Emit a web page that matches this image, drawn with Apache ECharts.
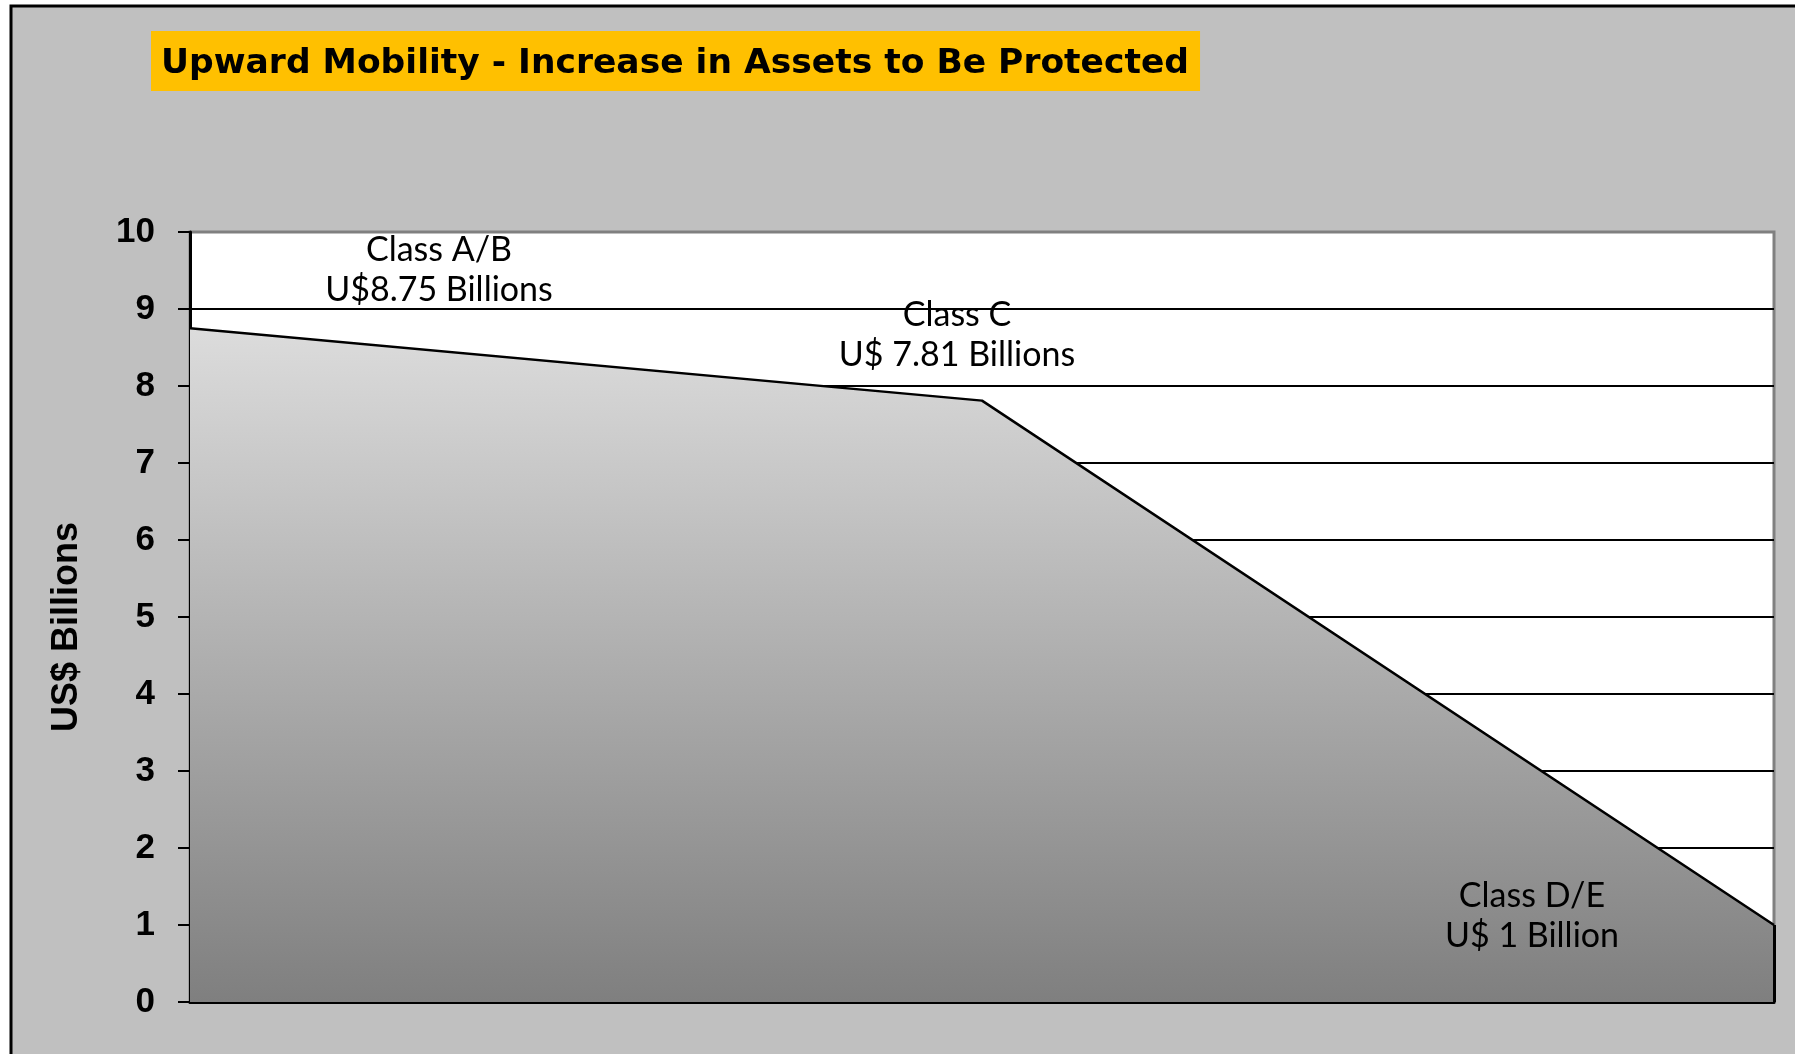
<!DOCTYPE html>
<html>
<head>
<meta charset="utf-8">
<title>Upward Mobility - Increase in Assets to Be Protected</title>
<script src="https://cdn.jsdelivr.net/npm/echarts@6/dist/echarts.min.js"></script>
<style>
  html, body { margin: 0; padding: 0; background: #ffffff; }
  #chart { width: 1795px; height: 1054px; }
</style>
</head>
<body>
<div id="chart"></div>
<script>
// Asset classes along the horizontal axis and protected assets (US$ billions)
const categories = ['Class A/B', 'Class C', 'Class D/E'];
const assets = [8.75, 7.81, 1];
const valueText = ['U$8.75 Billions', 'U$ 7.81 Billions', 'U$ 1 Billion'];
const yTicks = [0, 1, 2, 3, 4, 5, 6, 7, 8, 9, 10];

// Where each class caption sits relative to its point, in pixels
const captionOffsets = [[249, -58], [-25, -66], [-242, -9]];

const labelFont = 'Lato, "Noto Sans", sans-serif';

const chart = echarts.init(document.getElementById('chart'), null, { renderer: 'canvas' });

const seriesData = assets.map((v, i) => ({
  value: v,
  label: {
    show: true,
    position: 'inside',
    offset: captionOffsets[i],
    align: 'center',
    verticalAlign: 'middle',
    formatter: categories[i] + '\n' + valueText[i]
  }
}));

chart.setOption({
  animation: false,
  backgroundColor: '#ffffff',
  title: {
    text: 'Upward Mobility - Increase in Assets to Be Protected',
    left: 151,
    top: 31,
    backgroundColor: '#FFC000',
    padding: [14, 11, 8, 10],
    textStyle: {
      fontFamily: '"DejaVu Sans", sans-serif',
      fontWeight: 'bold',
      fontSize: 34.5,
      lineHeight: 38,
      color: '#000000'
    }
  },
  graphic: [
    {
      type: 'rect',
      z: -100,
      shape: { x: 11, y: 6, width: 1800, height: 1100 },
      style: { fill: '#c0c0c0', stroke: '#000000', lineWidth: 3 }
    }
  ],
  grid: {
    left: 190,
    top: 232,
    right: 21,
    bottom: 52,
    show: true,
    backgroundColor: '#ffffff',
    borderColor: '#808080',
    borderWidth: 3
  },
  xAxis: {
    type: 'category',
    data: categories,
    boundaryGap: false,
    axisLine: { show: true, lineStyle: { color: '#000000', width: 3 } },
    axisTick: { show: false },
    axisLabel: { show: false },
    splitLine: { show: false }
  },
  yAxis: {
    type: 'value',
    min: yTicks[0],
    max: yTicks[yTicks.length - 1],
    interval: 1,
    name: 'US$ Billions',
    nameLocation: 'middle',
    nameRotate: 90,
    nameGap: 105,
    nameTextStyle: {
      fontFamily: '"Liberation Sans", Arial, sans-serif',
      fontWeight: 'bold',
      fontSize: 36,
      color: '#000000',
      padding: [0, 20, 0, 0]
    },
    axisLine: { show: true, lineStyle: { color: '#000000', width: 3 } },
    axisTick: { show: true, length: 12, lineStyle: { color: '#000000', width: 2 } },
    axisLabel: {
      margin: 35,
      fontFamily: '"Liberation Sans", Arial, sans-serif',
      fontWeight: 'bold',
      fontSize: 35,
      color: '#000000'
    },
    splitLine: {
      show: true,
      lineStyle: {
        width: 2,
        color: ['#000000', '#000000', '#000000', '#000000', '#000000', '#000000',
                '#000000', '#000000', '#000000', '#000000', '#808080']
      }
    }
  },
  series: [
    {
      type: 'line',
      data: seriesData,
      symbol: 'circle',
      symbolSize: 1,
      showSymbol: true,
      itemStyle: { color: 'rgba(0,0,0,0)' },
      lineStyle: { color: '#000000', width: 2.5 },
      areaStyle: {
        opacity: 1,
        color: {
          type: 'linear', x: 0, y: 0, x2: 0, y2: 1,
          colorStops: [
            { offset: 0, color: '#dcdcdc' },
            { offset: 1, color: '#7f7f7f' }
          ]
        }
      },
      label: {
        color: '#000000',
        fontFamily: labelFont,
        fontSize: 34,
        lineHeight: 40
      },
      emphasis: { disabled: true },
      markLine: {
        silent: true,
        symbol: 'none',
        label: { show: false },
        lineStyle: { color: '#000000', width: 3, type: 'solid' },
        data: [[
          { coord: [categories[2], 0] },
          { coord: [categories[2], assets[2]] }
        ]]
      }
    }
  ]
});
</script>
</body>
</html>
